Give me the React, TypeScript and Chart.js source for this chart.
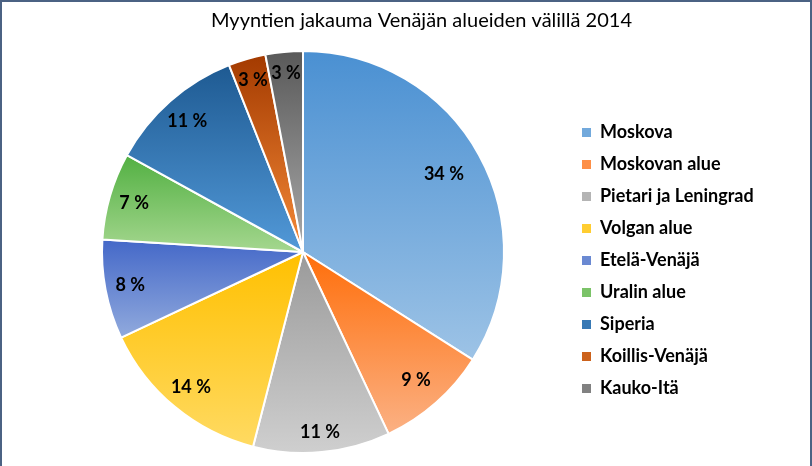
import React, { useEffect, useRef } from "react";
import { Chart, registerables } from "chart.js";

Chart.register(...registerables);

const TITLE = "Myyntien jakauma Venäjän alueiden välillä 2014";
const REGIONS = [
  "Moskova",
  "Moskovan alue",
  "Pietari ja Leningrad",
  "Volgan alue",
  "Etelä-Venäjä",
  "Uralin alue",
  "Siperia",
  "Koillis-Venäjä",
  "Kauko-Itä",
];
const SHARES = [34, 9, 11, 14, 8, 7, 11, 3, 3];

// style arrays
const TOP_COLORS = ["#4A90D2", "#FF6E0A", "#9A9A9A", "#FFC000", "#4468C8", "#52B042", "#1E5A92", "#A33A00", "#595959"];
const BOTTOM_COLORS = ["#9DC3E6", "#FBB184", "#CFCFCF", "#FFDA62", "#91AADD", "#A5D78F", "#5299D8", "#F58A38", "#AAAAAA"];
const LEGEND_COLORS = ["#72A9DC", "#FD8F47", "#B4B4B4", "#FFCD31", "#6A89D2", "#7BC368", "#3879B5", "#CC621C", "#818181"];
const LABEL_RADIUS = [0.8, 0.85, 0.9, 0.875, 0.875, 0.875, 0.87, 0.89, 0.895];

const FONT = "Lato, 'Open Sans', sans-serif";
const LEGEND_FONT_SIZE = 18;
const LEGEND_PAD = 14;
const BOX = 9;

const gradientPlugin = {
  id: "sliceGradient",
  beforeDatasetsDraw(chart: any) {
    const meta = chart.getDatasetMeta(0);
    const ctx = chart.ctx;
    meta.data.forEach((arc: any, i: number) => {
      const { y, startAngle, endAngle, outerRadius } = arc.getProps(
        ["x", "y", "startAngle", "endAngle", "outerRadius"],
        true
      );
      const ys = [y, y + outerRadius * Math.sin(startAngle), y + outerRadius * Math.sin(endAngle)];
      for (let k = -3; k <= 4; k++) {
        const a = -Math.PI / 2 + k * Math.PI;
        if (a > startAngle && a < endAngle) ys.push(y + outerRadius * Math.sin(a));
      }
      const y0 = Math.min(...ys);
      const y1 = Math.max(...ys);
      const g = ctx.createLinearGradient(0, y0, 0, y1);
      g.addColorStop(0, TOP_COLORS[i]);
      g.addColorStop(1, BOTTOM_COLORS[i]);
      arc.options = Object.assign({}, arc.options, { backgroundColor: g });
    });
  },
};

const labelPlugin = {
  id: "sliceLabels",
  afterDatasetsDraw(chart: any) {
    const meta = chart.getDatasetMeta(0);
    const ctx = chart.ctx;
    ctx.save();
    ctx.font = `bold 18px ${FONT}`;
    ctx.fillStyle = "#000000";
    ctx.textAlign = "center";
    ctx.textBaseline = "middle";
    meta.data.forEach((arc: any, i: number) => {
      const { x, y, startAngle, endAngle, outerRadius } = arc.getProps(
        ["x", "y", "startAngle", "endAngle", "outerRadius"],
        true
      );
      const mid = (startAngle + endAngle) / 2;
      const r = outerRadius * LABEL_RADIUS[i];
      ctx.fillText(`${SHARES[i]} %`, x + r * Math.cos(mid), y + r * Math.sin(mid));
    });
    ctx.restore();
  },
};

const titlePlugin = {
  id: "chartTitleText",
  afterDraw(chart: any) {
    const ctx = chart.ctx;
    ctx.save();
    ctx.font = `normal 20px ${FONT}`;
    ctx.fillStyle = "#000000";
    ctx.textAlign = "center";
    ctx.textBaseline = "middle";
    ctx.fillText(TITLE, 421.5, 21);
    ctx.restore();
  },
};

export default function App() {
  const canvasRef = useRef<HTMLCanvasElement | null>(null);

  useEffect(() => {
    document.body.style.margin = "0";
    const canvas = canvasRef.current;
    if (!canvas) return;

    // measure longest legend label to place the legend box at the desired x
    const mctx = document.createElement("canvas").getContext("2d")!;
    mctx.font = `bold ${LEGEND_FONT_SIZE}px ${FONT}`;
    const maxText = Math.max(...REGIONS.map((r) => mctx.measureText(r).width));
    const legendWidth = LEGEND_PAD + BOX + LEGEND_FONT_SIZE / 2 + maxText + 10;
    const legendLeft = 582 - LEGEND_PAD;
    const padLeft = 606 - legendLeft;
    const padRight = Math.max(0, 812 - legendLeft - legendWidth);

    const chart = new Chart(canvas, {
      type: "pie",
      data: {
        labels: REGIONS,
        datasets: [
          {
            data: SHARES,
            backgroundColor: LEGEND_COLORS,
            borderColor: "#FFFFFF",
            borderWidth: 2,
          },
        ],
      },
      options: {
        responsive: false,
        animation: false,
        devicePixelRatio: 1,
        layout: { padding: { left: padLeft, right: padRight, top: 50, bottom: 12 } },
        plugins: {
          title: { display: false },
          legend: {
            display: true,
            position: "right",
            fullSize: false,
            align: "center",
            title: { display: true, text: "", font: { size: 10, lineHeight: 1.7 }, padding: 0 },
            labels: {
              boxWidth: BOX,
              boxHeight: BOX,
              padding: LEGEND_PAD,
              color: "#000000",
              font: { family: FONT, size: LEGEND_FONT_SIZE, weight: "bold" as any },
              generateLabels: () =>
                REGIONS.map((text, i) => ({
                  text,
                  fillStyle: LEGEND_COLORS[i],
                  strokeStyle: LEGEND_COLORS[i],
                  lineWidth: 0,
                  hidden: false,
                  index: i,
                  fontColor: "#000000",
                })),
            },
          },
          tooltip: { enabled: false },
        },
      },
      plugins: [gradientPlugin, labelPlugin, titlePlugin],
    });

    return () => chart.destroy();
  }, []);

  return (
    <div style={{ position: "relative", width: 812, height: 466, background: "#FFFFFF" }}>
      <canvas ref={canvasRef} width={812} height={466} style={{ display: "block" }} />
      <div
        style={{
          position: "absolute",
          left: 0,
          top: 0,
          width: 812,
          height: 466,
          boxSizing: "border-box",
          borderTop: "2px solid #4B6283",
          borderLeft: "2px solid #4B6283",
          borderRight: "2px solid #4B6283",
          pointerEvents: "none",
        }}
      />
    </div>
  );
}
